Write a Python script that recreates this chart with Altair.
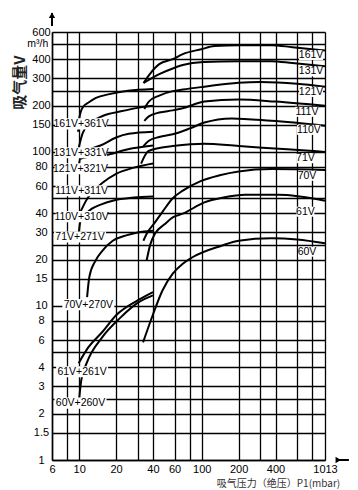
import altair as alt
import pandas as pd

# ---- combination pump curves (left group), x = p1 (mbar), y = V (m3/h)
x_161V_361V = [9.8, 10.0, 10.7, 12.0, 13.7, 17.7, 25, 40]
y_161V_361V = [135, 164, 195, 210, 224, 237, 249, 256]
x_131V_331V = [9.9, 10.7, 12.5, 15.5, 22.4, 30, 40]
y_131V_331V = [106, 133, 155, 171, 184, 193, 199]
x_121V_321V = [9.9, 11, 13, 14.9, 20, 25.4, 40]
y_121V_321V = [92, 100, 106, 110, 124, 131, 135]
x_111V_311V = [9.9, 10.2, 12, 16.4, 25, 40]
y_111V_311V = [80, 90, 93, 95, 104, 110]
x_110V_310V = [9.9, 11.8, 13.5, 15.5, 20, 28, 40]
y_110V_310V = [38.5, 50.6, 57, 63, 72, 79, 84]
x_71V_271V = [9.9, 10.2, 11.5, 12.7, 15, 18.8, 28, 40]
y_71V_271V = [29, 35, 40, 42.8, 45.5, 48.2, 50.5, 51.4]
x_70V_270V = [11.6, 12.1, 13.6, 15.5, 18.8, 23.8, 30, 40]
y_70V_270V = [11.4, 15.4, 19.7, 22.9, 26.5, 28.6, 30, 30.8]
x_61V_261V = [9.9, 11.9, 15.5, 20, 30.2, 40]
y_61V_261V = [4.25, 5.4, 6.8, 8.7, 10.9, 12.3]
x_60V_260V = [10, 10.4, 11.5, 15.5, 21.7, 30.2, 40]
y_60V_260V = [2.5, 3.3, 4.25, 6.3, 8.4, 10.5, 11.7]

# ---- single pump curves (right group)
x_161V = [33.5, 37.7, 45, 58, 70, 99, 127, 201, 370, 550, 1013]
y_161V = [280, 320, 371, 400, 431, 464, 486, 493, 493, 478, 455]
x_131V = [33.5, 45, 58, 70, 104, 201, 370, 550, 1013]
y_131V = [280, 320, 348, 366, 383, 388, 388, 377, 360]
x_121V = [34, 37, 45, 58, 70, 105, 200, 300, 600, 1013]
y_121V = [190, 212, 232, 248, 254, 265, 281, 284, 277, 265]
x_111V = [34, 37, 45, 58, 70, 105, 200, 400, 1013]
y_111V = [159, 170, 180, 186, 192, 212, 219, 212, 199]
x_110V = [33.4, 37, 45, 58, 80, 105, 176, 370, 1013]
y_110V = [109, 118, 125, 130, 142, 155, 165, 159, 148]
x_71V = [32, 36.6, 45, 58, 104, 201, 500, 1013]
y_71V = [84, 101, 106, 109, 113, 109, 104, 100]
x_70V = [33.4, 36, 40.8, 48, 58, 70, 99, 140, 200, 370, 1013]
y_70V = [26.5, 30, 34.2, 41, 50, 56, 64.9, 70.5, 74.6, 77.3, 76.4]
x_61V = [35.5, 38, 41.6, 50, 58, 70, 105, 150, 226, 420, 1013]
y_61V = [19.7, 25, 29.5, 34, 37.6, 39.7, 47, 50.5, 52.7, 52.7, 48.2]
x_60V = [33.2, 40, 47.8, 58, 70, 84, 145, 200, 370, 600, 1013]
y_60V = [5.8, 8.8, 12.6, 16.2, 18.8, 20.7, 24.6, 26.5, 27.5, 27, 25.5]

# ---- labels
left_labels = ["161V+361V", "131V+331V", "121V+321V", "111V+311V", "110V+310V",
               "71V+271V", "70V+270V", "61V+261V", "60V+260V"]
left_label_x = [10.36, 10.36, 10.25, 10.46, 10.46, 10.16, 11.87, 10.56, 10.25]
left_label_y = [152, 98.6, 77.6, 56, 38, 28, 10.2, 3.74, 2.34]
right_labels = ["161V", "131V", "121V", "111V", "110V", "71V", "70V", "61V", "60V"]
right_label_x = [780, 780, 780, 722, 750, 701, 722, 701, 722]
right_label_y = [425, 333, 245, 182, 139, 91, 70, 40.9, 22.5]

# ---- axes
x_grid = [6, 8, 10, 20, 30, 40, 60, 80, 100, 200, 300, 400, 600, 800, 1013]
x_tick_labels = [6, 10, 20, 40, 60, 100, 200, 400, 1013]
y_grid = [1, 1.5, 2, 2.5, 3, 4, 5, 6, 8, 10, 15, 20, 25, 30, 40, 50, 60, 80,
          100, 150, 200, 250, 300, 400, 500, 600]
y_tick_labels = [1, 1.5, 2, 3, 4, 6, 8, 10, 15, 20, 30, 40, 60, 80, 100, 150,
                 200, 300, 400, 600]
unit_label = ["m³/h"]
unit_x = [4.6]
unit_y = [500]
x_title = "吸气压力（绝压）P1(mbar)"
y_title = "吸气量V"

series = [
    ("161V+361V", x_161V_361V, y_161V_361V), ("131V+331V", x_131V_331V, y_131V_331V),
    ("121V+321V", x_121V_321V, y_121V_321V), ("111V+311V", x_111V_311V, y_111V_311V),
    ("110V+310V", x_110V_310V, y_110V_310V), ("71V+271V", x_71V_271V, y_71V_271V),
    ("70V+270V", x_70V_270V, y_70V_270V), ("61V+261V", x_61V_261V, y_61V_261V),
    ("60V+260V", x_60V_260V, y_60V_260V),
    ("161V", x_161V, y_161V), ("131V", x_131V, y_131V), ("121V", x_121V, y_121V),
    ("111V", x_111V, y_111V), ("110V", x_110V, y_110V), ("71V", x_71V, y_71V),
    ("70V", x_70V, y_70V), ("61V", x_61V, y_61V), ("60V", x_60V, y_60V),
]
rows = []
for name, xs, ys in series:
    for i, (a, b) in enumerate(zip(xs, ys)):
        rows.append({"series": name, "p": a, "v": b, "i": i})
curves = pd.DataFrame(rows)

left_df = pd.DataFrame({"label": left_labels, "p": left_label_x, "v": left_label_y})
right_df = pd.DataFrame({"label": right_labels, "p": right_label_x, "v": right_label_y})
right4 = right_df[right_df["label"].str.len() == 4]
right3 = right_df[right_df["label"].str.len() == 3]
unit_df = pd.DataFrame({"label": unit_label, "p": unit_x, "v": unit_y})

SANS = "Liberation Sans, Arial, sans-serif"
CJK = "Noto Sans CJK SC"

xs_scale = alt.Scale(type="log", domain=[6, 1013], nice=False)
ys_scale = alt.Scale(type="log", domain=[1, 600], nice=False)

x_axis = alt.Axis(
    values=x_grid, format="~g",
    labelExpr=f"indexof({x_tick_labels}, datum.value) >= 0 ? datum.label : ''",
    grid=True, gridColor="black", gridWidth=1.3, gridOpacity=1,
    ticks=False, labelPadding=3, labelFont=SANS, labelFontSize=11, labelColor="black",
    labelFlush=False, labelOverlap=False, labelBaseline="top",
    domainColor="black", domainWidth=1.5,
    title=x_title, titleFont=CJK, titleFontSize=10, titleFontWeight="normal",
    titleColor="#333333", titleX=226, titleY=23, titleAlign="center", titleBaseline="middle",
)
y_axis = alt.Axis(
    values=y_grid, format="~g",
    labelExpr=f"indexof({y_tick_labels}, datum.value) >= 0 ? datum.label : ''",
    grid=True, gridColor="black", gridWidth=1.3, gridOpacity=1,
    ticks=False, labelPadding=11, labelAlign="center", labelBaseline="middle",
    labelFont=SANS, labelFontSize=11, labelColor="black",
    labelFlush=False, labelOverlap=False,
    domainColor="black", domainWidth=1.5,
    title=y_title, titleFont=CJK, titleFontSize=15, titleFontWeight="bold",
    titleColor="#222222", titleX=-33, titleY=50, titleAlign="center", titleBaseline="middle",
    titleAngle=270,
)

X = alt.X("p:Q", scale=xs_scale, axis=x_axis)
Y = alt.Y("v:Q", scale=ys_scale, axis=y_axis)

lines = alt.Chart(curves).mark_line(
    color="black", strokeWidth=2, interpolate="monotone"
).encode(x=X, y=Y, detail="series:N", order="i:Q")


def box(w, h):
    r = h / w
    return f"M-1,-{r:.3f}L1,-{r:.3f}L1,{r:.3f}L-1,{r:.3f}Z", w ** 2


lp, ls = box(52, 11)
r4p, r4s = box(24, 10)
r3p, r3s = box(18, 10)

left_box = alt.Chart(left_df).mark_point(
    shape=lp, size=ls, filled=True, fill="white", opacity=1, strokeWidth=0
).encode(x=X, y=Y)
r4_box = alt.Chart(right4).mark_point(
    shape=r4p, size=r4s, filled=True, fill="white", opacity=1, strokeWidth=0
).encode(x=X, y=Y)
r3_box = alt.Chart(right3).mark_point(
    shape=r3p, size=r3s, filled=True, fill="white", opacity=1, strokeWidth=0
).encode(x=X, y=Y)

text_style = dict(font=SANS, fontSize=10.5, color="black", align="center", baseline="middle")
left_text = alt.Chart(left_df).mark_text(**text_style).encode(x=X, y=Y, text="label:N")
right_text = alt.Chart(right_df).mark_text(**text_style).encode(x=X, y=Y, text="label:N")
unit_text = alt.Chart(unit_df).mark_text(**text_style).encode(x=X, y=Y, text="label:N")

# axis arrows
arrow_y_rule = alt.Chart(pd.DataFrame({"p": [6], "v": [656], "v2": [796]})).mark_rule(
    color="black", strokeWidth=2).encode(x=X, y=Y, y2="v2:Q")
arrow_y_head = alt.Chart(pd.DataFrame({"p": [6], "v": [770]})).mark_point(
    shape="triangle-up", size=40, filled=True, color="black", opacity=1).encode(x=X, y=Y)
arrow_x_rule = alt.Chart(pd.DataFrame({"p": [1245], "p2": [1588], "v": [1]})).mark_rule(
    color="black", strokeWidth=2).encode(x=X, x2="p2:Q", y=Y)
arrow_x_head = alt.Chart(pd.DataFrame({"p": [1300], "v": [1]})).mark_point(
    shape="triangle-right", size=40, filled=True, color="black", opacity=1).encode(x=X, y=Y)

chart = alt.layer(
    lines, left_box, r4_box, r3_box, left_text, right_text, unit_text,
    arrow_y_rule, arrow_y_head, arrow_x_rule, arrow_x_head,
).properties(
    width=273, height=428,
    autosize=alt.AutoSizeParams(type="none"),
    padding={"left": 44, "top": 24, "right": 25, "bottom": 30},
).configure_view(stroke="black", strokeWidth=1.3).configure(background="white")

chart.save("out.html", embed_options={"renderer": "svg", "actions": False})
